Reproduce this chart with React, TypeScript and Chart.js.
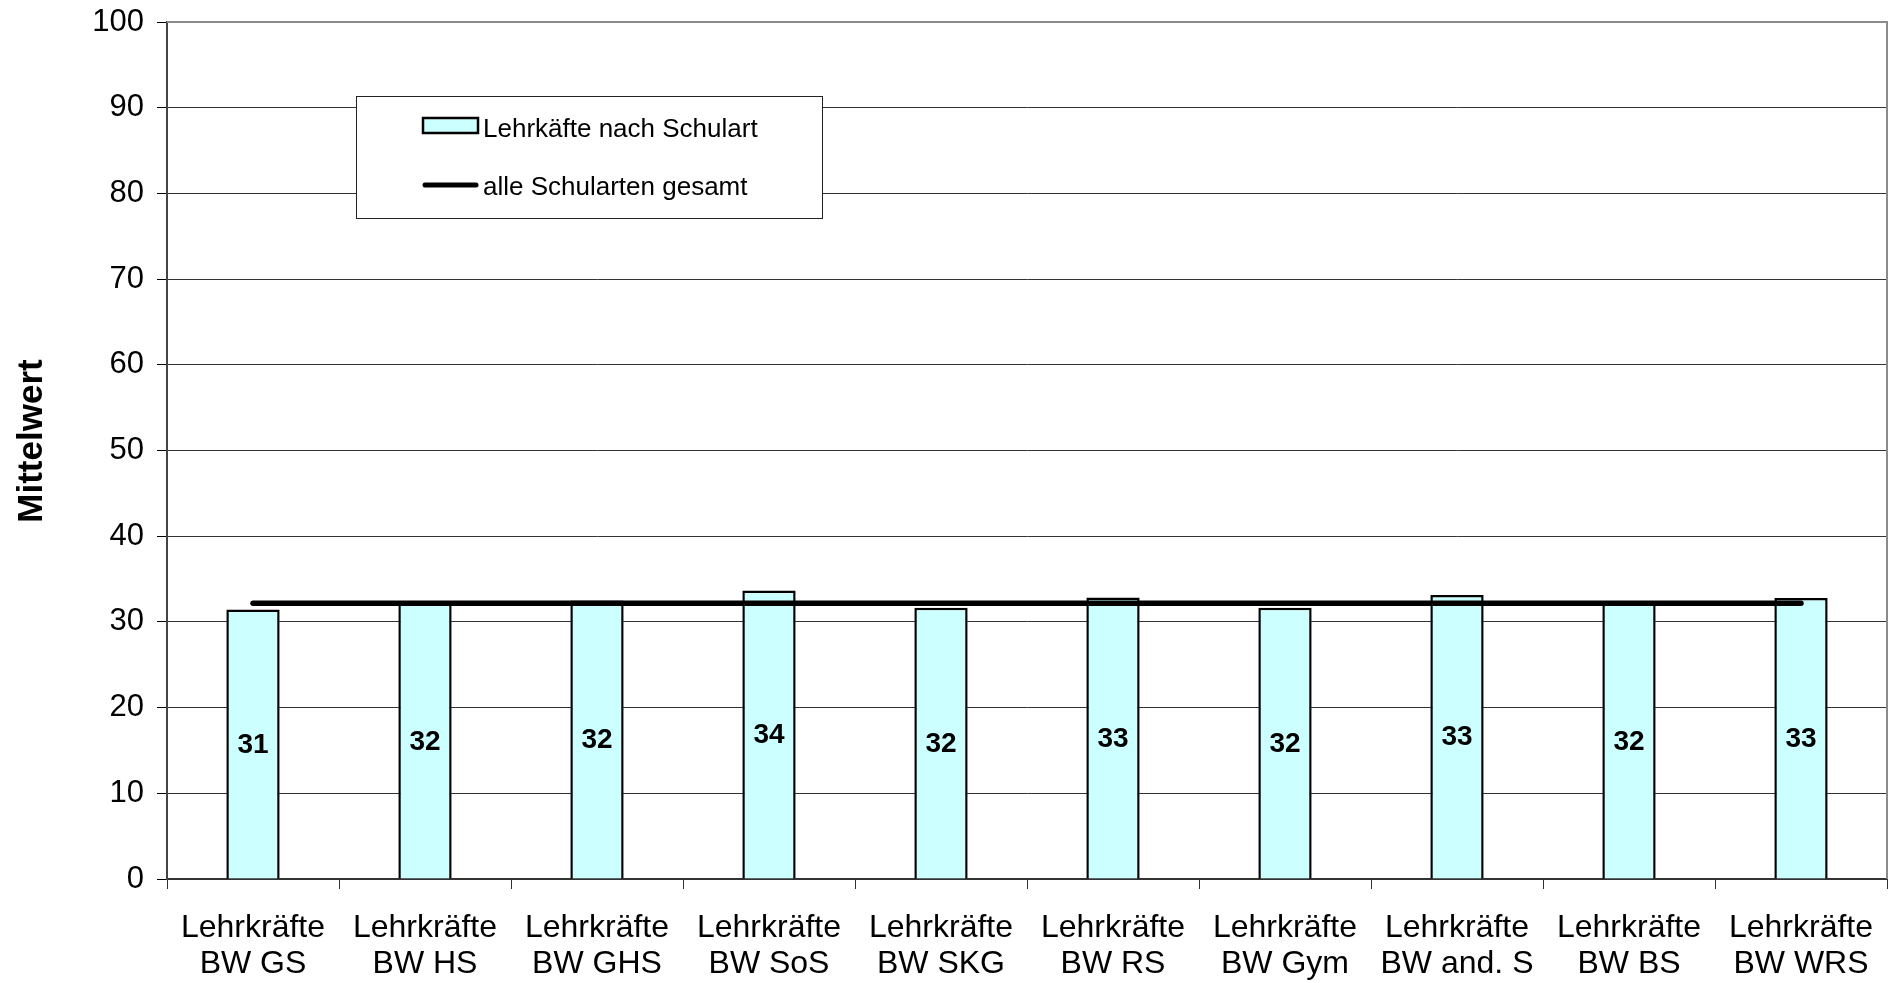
import React, { useEffect, useRef } from 'react';
import { Chart, registerables } from 'chart.js';

Chart.register(...registerables);

const categories: string[][] = [
  ['Lehrkräfte', 'BW GS'],
  ['Lehrkräfte', 'BW HS'],
  ['Lehrkräfte', 'BW GHS'],
  ['Lehrkräfte', 'BW SoS'],
  ['Lehrkräfte', 'BW SKG'],
  ['Lehrkräfte', 'BW RS'],
  ['Lehrkräfte', 'BW Gym'],
  ['Lehrkräfte', 'BW and. S'],
  ['Lehrkräfte', 'BW BS'],
  ['Lehrkräfte', 'BW WRS'],
];

const teacherMeans: number[] = [31.45, 32.15, 32.49, 33.65, 31.65, 32.85, 31.65, 33.15, 32.15, 32.8];
const overallMean: number[] = [32.18, 32.18, 32.18, 32.18, 32.18, 32.18, 32.18, 32.18, 32.18, 32.18];

const barLegendLabel = 'Lehrkäfte nach Schulart';
const lineLegendLabel = 'alle Schularten gesamt';
const yAxisTitle = 'Mittelwert';
const yMin = 0;
const yMax = 100;
const yStep = 10;

const FONT = "'Liberation Sans', Arial, sans-serif";
const BAR_FILL = '#CCFFFF';

const plotFramePlugin = {
  id: 'plotFrame',
  beforeDatasetsDraw(chart: any) {
    const { ctx, chartArea } = chart;
    ctx.save();
    ctx.strokeStyle = '#8c8c8c';
    ctx.lineWidth = 2;
    ctx.beginPath();
    ctx.moveTo(chartArea.left, chartArea.top);
    ctx.lineTo(chartArea.right, chartArea.top);
    ctx.lineTo(chartArea.right, chartArea.bottom);
    ctx.stroke();
    ctx.restore();
  },
};

const yTitlePlugin = {
  id: 'yTitle',
  afterDraw(chart: any) {
    const { ctx } = chart;
    ctx.save();
    ctx.translate(24, 433);
    ctx.rotate(-Math.PI / 2);
    ctx.font = `bold 35px ${FONT}`;
    ctx.fillStyle = '#000';
    ctx.textAlign = 'center';
    ctx.textBaseline = 'middle';
    ctx.fillText(yAxisTitle, 0, 0);
    ctx.restore();
  },
};

const valueLabelPlugin = {
  id: 'valueLabels',
  afterDatasetsDraw(chart: any) {
    const { ctx } = chart;
    const meta = chart.getDatasetMeta(0);
    ctx.save();
    ctx.font = `bold 28px ${FONT}`;
    ctx.fillStyle = '#000';
    ctx.textAlign = 'center';
    ctx.textBaseline = 'middle';
    meta.data.forEach((el: any, i: number) => {
      const v = teacherMeans[i];
      ctx.fillText(String(Math.round(v)), el.x, (el.y + el.base) / 2 + 1);
    });
    ctx.restore();
  },
};

const boxLegendPlugin = {
  id: 'boxLegend',
  afterDatasetsDraw(chart: any) {
    const { ctx, chartArea } = chart;
    const x0 = chartArea.left + 189;
    const y0 = chartArea.top + 74;
    const w = 466;
    const h = 122;
    ctx.save();
    ctx.fillStyle = '#fff';
    ctx.fillRect(x0, y0, w, h);
    ctx.strokeStyle = '#222';
    ctx.lineWidth = 1;
    ctx.strokeRect(x0 + 0.5, y0 + 0.5, w, h);

    ctx.fillStyle = BAR_FILL;
    ctx.fillRect(x0 + 67, y0 + 22, 55, 15);
    ctx.strokeStyle = '#000';
    ctx.lineWidth = 2.5;
    ctx.strokeRect(x0 + 67, y0 + 22, 55, 15);

    ctx.beginPath();
    ctx.lineWidth = 5;
    ctx.lineCap = 'round';
    ctx.moveTo(x0 + 69, y0 + 89);
    ctx.lineTo(x0 + 120, y0 + 89);
    ctx.stroke();

    ctx.fillStyle = '#000';
    ctx.font = `26px ${FONT}`;
    ctx.textAlign = 'left';
    ctx.textBaseline = 'alphabetic';
    ctx.fillText(barLegendLabel, x0 + 127, y0 + 41);
    ctx.fillText(lineLegendLabel, x0 + 127, y0 + 99);
    ctx.restore();
  },
};

export default function App() {
  const canvasRef = useRef<HTMLCanvasElement | null>(null);

  useEffect(() => {
    if (!canvasRef.current) return;
    const chart = new Chart(canvasRef.current, {
      type: 'bar',
      data: {
        labels: categories,
        datasets: [
          {
            type: 'bar',
            label: barLegendLabel,
            data: teacherMeans,
            backgroundColor: BAR_FILL,
            borderColor: '#000',
            borderWidth: 2.5,
            barPercentage: 0.31,
            categoryPercentage: 1,
            order: 1,
          } as any,
          {
            type: 'line',
            label: lineLegendLabel,
            data: overallMean,
            borderColor: '#000',
            borderWidth: 5.5,
            borderCapStyle: 'round',
            pointRadius: 0,
            fill: false,
            tension: 0,
            order: 0,
          } as any,
        ],
      },
      options: {
        responsive: false,
        animation: false,
        layout: { padding: { top: 14, right: 1, left: 0, bottom: 0 } },
        plugins: {
          legend: { display: false },
          tooltip: { enabled: false },
          title: { display: false },
        },
        scales: {
          x: {
            offset: true,
            grid: {
              offset: true,
              drawOnChartArea: false,
              drawTicks: true,
              tickLength: 10,
              tickColor: '#333',
              lineWidth: 1,
            },
            border: { display: true, color: '#333', width: 2 },
            ticks: {
              color: '#000',
              font: { family: FONT, size: 32, lineHeight: 1.12 },
              padding: 21,
              maxRotation: 0,
              minRotation: 0,
              autoSkip: false,
            },
            afterFit(scale: any) {
              scale.height = 104;
              scale.paddingLeft = 0;
              scale.paddingRight = 0;
            },
          },
          y: {
            min: yMin,
            max: yMax,
            ticks: {
              stepSize: yStep,
              color: '#000',
              font: { family: FONT, size: 31 },
              padding: 13,
            },
            grid: {
              color: (c: any) => (c.tick && c.tick.value === yMax ? '#8c8c8c' : '#333'),
              lineWidth: 1,
              tickLength: 10,
              tickColor: '#000',
            },
            border: { display: true, color: '#444', width: 2 },
            title: { display: false },
            afterFit(scale: any) {
              scale.width = 159;
              scale.paddingTop = 0;
              scale.paddingBottom = 0;
            },
          },
        },
      },
      plugins: [plotFramePlugin, valueLabelPlugin, boxLegendPlugin, yTitlePlugin],
    } as any);
    return () => chart.destroy();
  }, []);

  return (
    <div style={{ width: 1880, height: 975 }}>
      <canvas ref={canvasRef} width={1880} height={975} style={{ display: 'block' }} />
    </div>
  );
}
